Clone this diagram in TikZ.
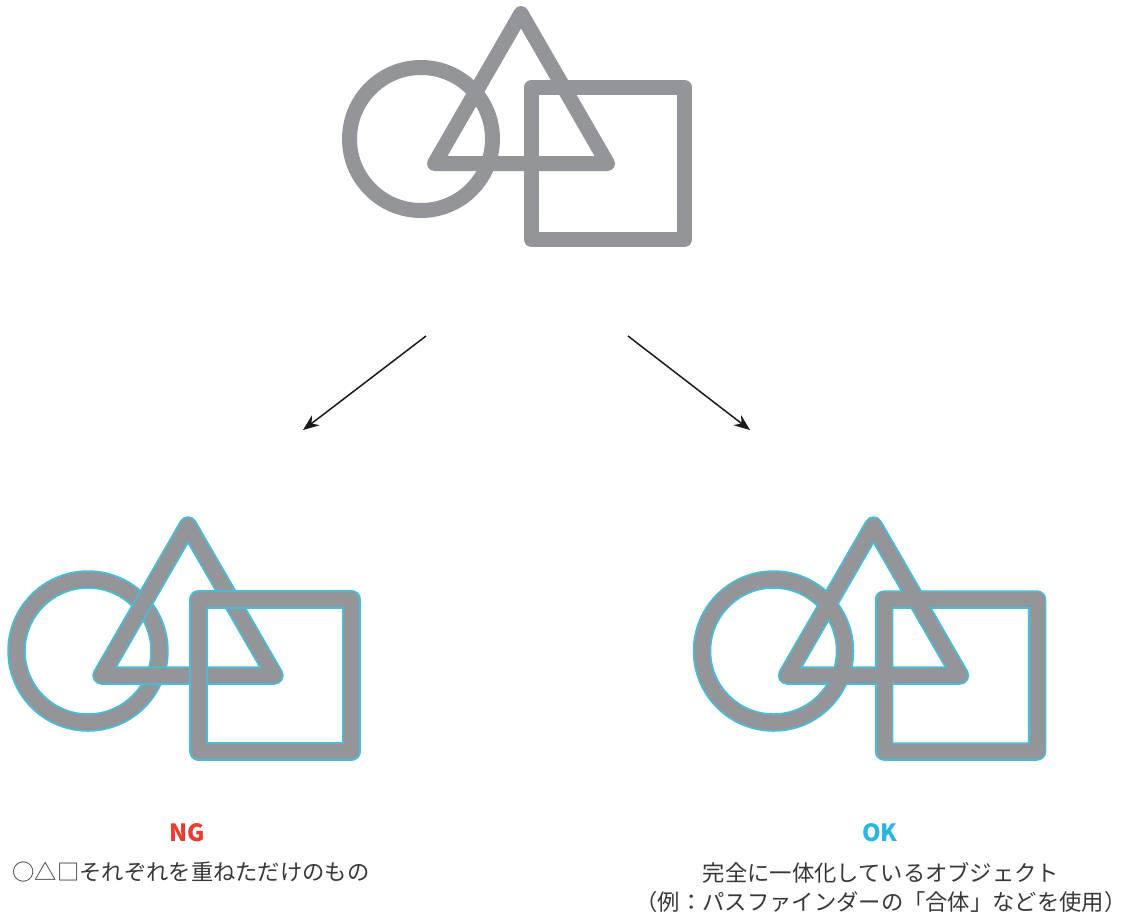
\documentclass[tikz,border=0pt]{standalone}
\usepackage{fontspec}
\newfontfamily\jpfont{Noto Sans CJK JP}
\usetikzlibrary{arrows.meta}
\definecolor{shapegray}{RGB}{147,149,152}
\definecolor{outlinecyan}{RGB}{64,192,222}
\definecolor{ngred}{RGB}{238,58,42}
\definecolor{okcyan}{RGB}{41,182,230}
\definecolor{textgray}{RGB}{55,55,55}
\tikzset{
  shapeline/.style={draw=shapegray,line width=0.3cm,line join=round},
  shapeedge/.style={draw=outlinecyan,line width=0.37cm,line join=round},
  flowarrow/.style={-{Stealth[length=0.32cm,width=0.25cm]},line width=0.03cm,draw=black!90},
  verdict/.style={font=\jpfont\bfseries\fontsize{13.5pt}{15pt}\selectfont},
  caption/.style={font=\jpfont\fontsize{12.7pt}{16.5pt}\selectfont,text=textgray,align=center,inner sep=0pt}
}
% the three shapes, centre lines
\newcommand{\ringpath}{(421,139) circle [radius=71.5]}
\newcommand{\trianglepath}{(521,13.5) -- (607.5,163.5) -- (434.5,163.5) -- cycle}
\newcommand{\squarepath}{(531.5,87.5) rectangle (684.5,239.5)}

\begin{document}
\begin{tikzpicture}[x=0.02cm,y=-0.02cm]
  \useasboundingbox (0,0) rectangle (1124,917);

  % original
  \draw[shapeline] \ringpath;
  \draw[shapeline] \trianglepath;
  \draw[shapeline] \squarepath;

  % NG: each shape outlined on its own
  \begin{scope}[shift={(-333,512)}]
    \draw[shapeedge] \ringpath;
    \draw[shapeline] \ringpath;
    \draw[shapeedge] \trianglepath;
    \draw[shapeline] \trianglepath;
    \draw[shapeedge] \squarepath;
    \draw[shapeline] \squarepath;
  \end{scope}

  % OK: one merged outline
  \begin{scope}[shift={(352.5,512)}]
    \draw[shapeedge] \ringpath \trianglepath \squarepath;
    \draw[shapeline] \ringpath;
    \draw[shapeline] \trianglepath;
    \draw[shapeline] \squarepath;
  \end{scope}

  \coordinate (lstart) at (426,336);
  \coordinate (lend) at (303,430);
  \coordinate (rstart) at (628,336);
  \coordinate (rend) at (750,430);
  \draw[flowarrow] (lstart) -- (lend);
  \draw[flowarrow] (rstart) -- (rend);

  \node[verdict,text=ngred] (ng) at (187,833) {NG};
  \node[caption] (ngtext) at (191,872) {○△□それぞれを重ねただけのもの};
  \node[verdict,text=okcyan] (ok) at (880,833) {OK};
  \node[caption] (oktext) at (881,887) {完全に一体化しているオブジェクト\\（例：パスファインダーの「合体」などを使用）};
\end{tikzpicture}
\end{document}
